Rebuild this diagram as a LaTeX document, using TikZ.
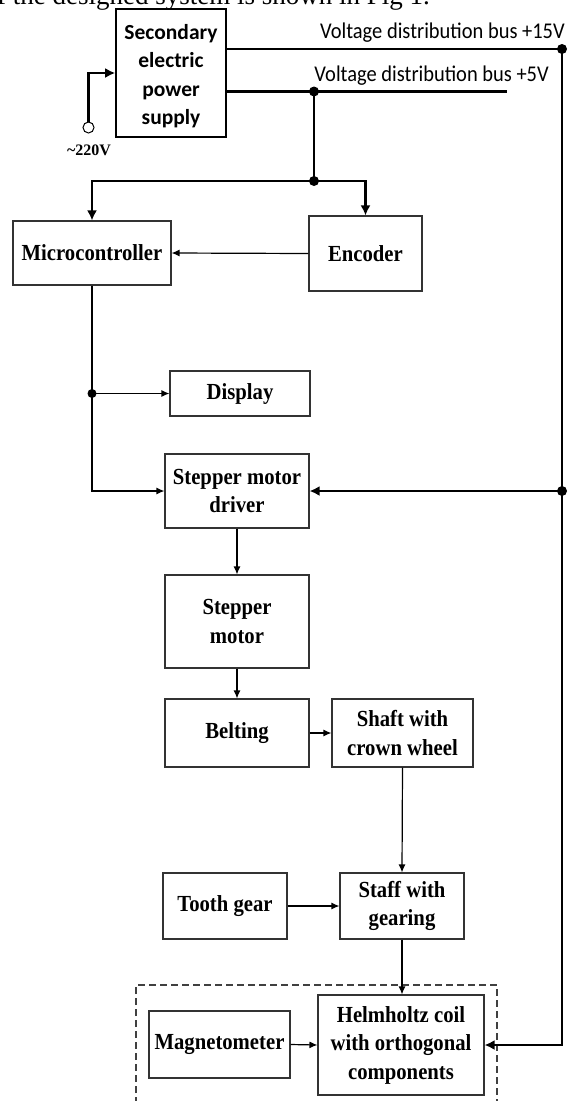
\documentclass[tikz,border=0pt]{standalone}
\usepackage{fontspec}
\setmainfont{Liberation Serif}
\newfontfamily\calibri{Carlito}
\newfontfamily\calibricond[FakeStretch=0.91]{Carlito}
\newfontfamily\blkfont[FakeStretch=0.9]{Liberation Serif}
\usetikzlibrary{arrows.meta}
\begin{document}
\begin{tikzpicture}[x=1pt,y=-1pt,
  blk/.style={draw=black!80, line width=1.1pt, align=center, inner sep=0pt,
    font=\blkfont\bfseries\fontsize{23}{28.5}\selectfont},
  psbox/.style={draw=black, line width=1.6pt, inner sep=0pt},
  pstext/.style={align=center, inner sep=0pt,
    font=\calibri\bfseries\fontsize{21.5}{28.5}\selectfont},
  buslabel/.style={font=\calibricond\fontsize{22.5}{22.5}\selectfont, inner sep=0pt},
  sig/.style={line width=1.2pt, -{Latex[length=8pt,width=7pt]}},
  bus/.style={line width=2.6pt},
  busarr/.style={line width=2.6pt, -{Latex[length=10pt,width=10pt]}},
  dot/.style={circle, fill=black, inner sep=0pt, minimum size=10pt},
  sdot/.style={circle, fill=black, inner sep=0pt, minimum size=9pt},
  grp/.style={draw=black!75, line width=1.1pt, dash pattern=on 7pt off 4pt}]
\useasboundingbox (0,0) rectangle (568,1101);
\clip (0,0) rectangle (568,1101);

% caption fragment (cut by the top edge, as in the reference)
\node[anchor=base west, inner sep=0pt, font=\fontsize{27}{27}\selectfont] (cap) at (-3,4.5) {f the designed system is shown in Fig 1.};

% blocks
\node[psbox, minimum width=110pt, minimum height=128pt] (ps) at (171,73) {};
\node[pstext] (pst) at (171,76) {Secondary\\electric\\power\\supply};
\node[blk, minimum width=158pt, minimum height=64pt] (mc) at (92,253) {Microcontroller};
\node[blk, minimum width=113pt, minimum height=75pt] (enc) at (365.5,253.5) {Encoder};
\node[blk, minimum width=140pt, minimum height=45pt] (disp) at (240,393.5) {Display};
\node[blk, minimum width=144pt, minimum height=74pt] (drv) at (237,491) {Stepper motor\\driver};
\node[blk, minimum width=144pt, minimum height=93pt] (mot) at (237,621.5) {Stepper\\motor};
\node[blk, minimum width=144pt, minimum height=68pt] (belt) at (237,733) {Belting};
\node[blk, minimum width=141pt, minimum height=68pt] (shaft) at (402.5,733) {Shaft with\\crown wheel};
\node[blk, minimum width=124pt, minimum height=66pt] (tooth) at (225,906) {Tooth gear};
\node[blk, minimum width=124pt, minimum height=66pt] (staff) at (402,906) {Staff with\\gearing};
\node[blk, minimum width=166pt, minimum height=100pt] (helm) at (401,1045) {Helmholtz coil\\with orthogonal\\components};
\node[blk, minimum width=141pt, minimum height=67pt] (mag) at (219.5,1044.5) {Magnetometer};

% dashed group (bottom edge outside the picture)
\draw[grp] (136,1115) -- (136,985) -- (497,985) -- (497,1115);

% mains input
\node[circle, draw=black, line width=1pt, minimum size=11pt, inner sep=0pt] (ac) at (88.5,127.5) {};
\node[inner sep=0pt, font=\bfseries\fontsize{16}{16}\selectfont] (aclbl) at (89,150) {\textasciitilde220V};
\draw[busarr] (ac.north) |- (ps.west);

% +15 V bus
\coordinate (b15) at (562,49);
\node[buslabel, anchor=base east] (l15) at (565,38) {Voltage distribution bus +15V};
\draw[bus] (ps.east |- b15) -- (b15);
\node[dot] (d15) at (b15) {};
\coordinate (j15) at (562,491);
\node[dot] (dj15) at (j15) {};
\draw[busarr] (b15) |- (helm.east);
\draw[busarr] (j15) -- (drv.east);

% +5 V bus
\coordinate (j5) at (314,91.5);
\coordinate (e5) at (507,91.5);
\node[buslabel, anchor=base east] (l5) at (549,81) {Voltage distribution bus +5V};
\draw[bus] (ps.east |- j5) -- (e5);
\coordinate (js) at (314,181);
\draw[bus] (j5) -- (js);
\draw[busarr] (js) -| (mc.north);
\draw[busarr] (js) -| (enc.north);
\node[dot] (dj5) at (j5) {};
\node[dot] (djs) at (js) {};

% signal paths
\draw[sig] (enc.west) -- (mc.east);
\coordinate (jd) at (92,393.5);
\draw[sig] (mc.south) |- (drv.west);
\draw[sig] (jd) -- (disp.west);
\node[sdot] (djd) at (jd) {};
\draw[sig] (drv.south) -- (mot.north);
\draw[sig] (mot.south) -- (belt.north);
\draw[sig] (belt.east) -- (shaft.west);
\draw[sig] (shaft.south) -- (staff.north);
\draw[sig] (tooth.east) -- (staff.west);
\draw[sig] (staff.south) -- (staff.south |- helm.north);
\draw[sig] (mag.east) -- (helm.west);
\end{tikzpicture}
\end{document}
